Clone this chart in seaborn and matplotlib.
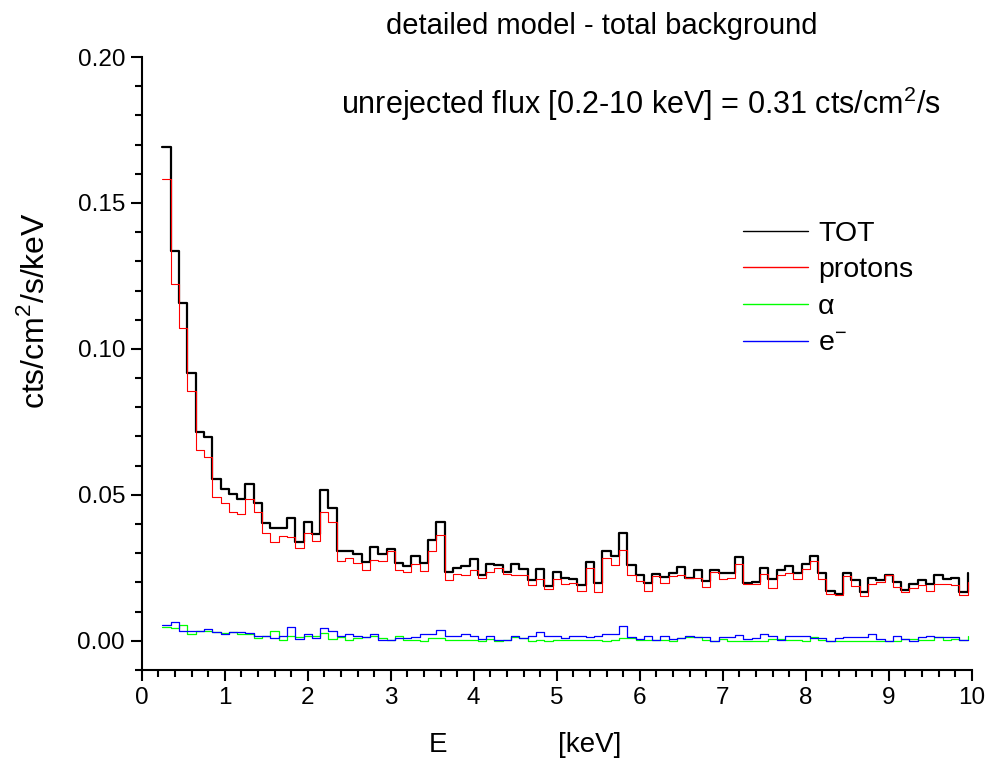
import numpy as np
import matplotlib
matplotlib.use("Agg")
import matplotlib.pyplot as plt
from matplotlib.ticker import MultipleLocator, FormatStrFormatter
import seaborn as sns

# lower edge of each 0.1 keV bin
energy = np.round(np.arange(0.25, 10.0, 0.1), 2)

tot = [0.1692, 0.1337, 0.1158, 0.0917, 0.0716, 0.0699, 0.0556, 0.0521, 0.0503, 0.0486,
       0.0537, 0.0471, 0.0405, 0.0386, 0.0385, 0.0420, 0.0337, 0.0407, 0.0366, 0.0515,
       0.0454, 0.0308, 0.0309, 0.0297, 0.0269, 0.0320, 0.0299, 0.0315, 0.0267, 0.0256,
       0.0292, 0.0267, 0.0347, 0.0406, 0.0235, 0.0251, 0.0257, 0.0281, 0.0224, 0.0263,
       0.0261, 0.0236, 0.0263, 0.0245, 0.0207, 0.0247, 0.0188, 0.0236, 0.0215, 0.0212,
       0.0191, 0.0269, 0.0197, 0.0306, 0.0289, 0.0371, 0.0258, 0.0224, 0.0198, 0.0229,
       0.0219, 0.0231, 0.0253, 0.0215, 0.0242, 0.0206, 0.0242, 0.0234, 0.0231, 0.0287,
       0.0199, 0.0202, 0.0250, 0.0212, 0.0242, 0.0256, 0.0233, 0.0262, 0.0292, 0.0232,
       0.0169, 0.0161, 0.0232, 0.0208, 0.0167, 0.0216, 0.0207, 0.0227, 0.0202, 0.0175,
       0.0194, 0.0208, 0.0195, 0.0224, 0.0212, 0.0215, 0.0166, 0.0234]

protons = [0.1583, 0.1222, 0.1071, 0.0857, 0.0654, 0.0631, 0.0493, 0.0473, 0.0441, 0.0433,
           0.0486, 0.0442, 0.0371, 0.0340, 0.0360, 0.0354, 0.0318, 0.0369, 0.0343, 0.0441,
           0.0408, 0.0275, 0.0284, 0.0266, 0.0242, 0.0276, 0.0274, 0.0307, 0.0242, 0.0236,
           0.0263, 0.0239, 0.0307, 0.0361, 0.0207, 0.0229, 0.0224, 0.0244, 0.0215, 0.0237,
           0.0250, 0.0229, 0.0227, 0.0226, 0.0190, 0.0213, 0.0179, 0.0211, 0.0194, 0.0197,
           0.0171, 0.0251, 0.0167, 0.0282, 0.0261, 0.0311, 0.0226, 0.0206, 0.0172, 0.0222,
           0.0198, 0.0223, 0.0227, 0.0215, 0.0215, 0.0183, 0.0236, 0.0212, 0.0216, 0.0264,
           0.0196, 0.0194, 0.0228, 0.0181, 0.0225, 0.0234, 0.0212, 0.0246, 0.0272, 0.0211,
           0.0161, 0.0158, 0.0223, 0.0189, 0.0153, 0.0193, 0.0201, 0.0224, 0.0184, 0.0167,
           0.0182, 0.0191, 0.0172, 0.0196, 0.0195, 0.0192, 0.0158, 0.0200]

alpha = [0.0049, 0.0045, 0.0053, 0.0022, 0.0032, 0.0032, 0.0030, 0.0026, 0.0029, 0.0022,
         0.0022, 0.0009, 0.0017, 0.0034, 0.0003, 0.0015, 0.0013, 0.0015, 0.0015, 0.0026,
         0.0007, 0.0014, 0.0003, 0.0009, 0.0012, 0.0017, 0.0008, 0.0004, 0.0015, 0.0003,
         0.0003, 0.0000, 0.0009, 0.0009, 0.0004, 0.0004, 0.0004, 0.0004, 0.0000, 0.0006,
         0.0000, 0.0003, 0.0012, 0.0009, 0.0000, 0.0003, 0.0000, 0.0003, 0.0003, 0.0003,
         0.0003, 0.0003, 0.0003, 0.0000, 0.0003, 0.0009, 0.0009, 0.0003, 0.0003, 0.0003,
         0.0003, 0.0000, 0.0009, 0.0012, 0.0012, 0.0003, 0.0000, 0.0007, 0.0000, 0.0000,
         0.0000, 0.0000, 0.0000, 0.0007, 0.0007, 0.0003, 0.0003, 0.0000, 0.0012, 0.0003,
         0.0000, 0.0000, 0.0001, 0.0000, 0.0000, 0.0000, 0.0000, 0.0000, 0.0000, 0.0007,
         0.0007, 0.0003, 0.0003, 0.0012, 0.0003, 0.0007, 0.0003, 0.0017]

electrons = [0.0054, 0.0066, 0.0032, 0.0032, 0.0032, 0.0039, 0.0030, 0.0023, 0.0029, 0.0029,
             0.0026, 0.0017, 0.0017, 0.0009, 0.0017, 0.0047, 0.0007, 0.0023, 0.0009, 0.0045,
             0.0034, 0.0017, 0.0022, 0.0015, 0.0012, 0.0023, 0.0003, 0.0003, 0.0011, 0.0011,
             0.0012, 0.0025, 0.0025, 0.0038, 0.0018, 0.0015, 0.0025, 0.0015, 0.0006, 0.0015,
             0.0003, 0.0003, 0.0018, 0.0009, 0.0017, 0.0029, 0.0015, 0.0015, 0.0009, 0.0015,
             0.0015, 0.0012, 0.0015, 0.0025, 0.0023, 0.0051, 0.0013, 0.0006, 0.0015, 0.0002,
             0.0015, 0.0007, 0.0009, 0.0018, 0.0013, 0.0013, 0.0000, 0.0012, 0.0012, 0.0019,
             0.0007, 0.0008, 0.0023, 0.0018, 0.0003, 0.0015, 0.0015, 0.0015, 0.0008, 0.0008,
             0.0000, 0.0008, 0.0012, 0.0012, 0.0012, 0.0023, 0.0006, 0.0001, 0.0015, 0.0006,
             0.0000, 0.0012, 0.0015, 0.0012, 0.0012, 0.0012, 0.0003, 0.0003]

sns.set_style("ticks")
plt.rcParams['font.family'] = ['Liberation Sans', 'DejaVu Sans']
plt.rcParams['mathtext.fontset'] = 'custom'
plt.rcParams['mathtext.rm'] = 'Liberation Sans'
plt.rcParams['text.color'] = 'black'
plt.rcParams['xtick.color'] = 'black'
plt.rcParams['ytick.color'] = 'black'
plt.rcParams['axes.labelcolor'] = 'black'

fig = plt.figure(figsize=(9.87, 7.58), dpi=100)
ax = fig.add_axes([0.1436, 0.1161, 0.8409, 0.8087])

series = [(tot, 'TOT', 'black', 1.6),
          (protons, 'protons', '#ff0000', 0.8),
          (alpha, 'α', '#00ff00', 0.9),
          (electrons, 'e$^{-}$', '#0000ff', 0.9)]
for vals, name, col, lw in series:
    sns.lineplot(x=energy, y=vals, drawstyle='steps-post', color=col, lw=lw,
                 label=name, errorbar=None, ax=ax)

ax.set_xlim(0, 10)
ax.set_ylim(-0.01, 0.20)
ax.xaxis.set_major_locator(MultipleLocator(1))
ax.xaxis.set_minor_locator(MultipleLocator(0.2))
ax.set_yticks([0.0, 0.05, 0.10, 0.15, 0.20])
ax.yaxis.set_minor_locator(MultipleLocator(0.01))
ax.yaxis.set_major_formatter(FormatStrFormatter('%.2f'))
ax.tick_params(which='major', length=8, width=1.5, labelsize=17.5,
               color='black', labelcolor='black', pad=4)
ax.tick_params(which='minor', length=5, width=1.5, color='black')
sns.despine(ax=ax)
for sp in ['left', 'bottom']:
    ax.spines[sp].set_linewidth(1.5)
    ax.spines[sp].set_color('black')
ax.set_xlabel('')
ax.set_ylabel('')

leg = ax.legend(loc='upper left', bbox_to_anchor=(717 / 987, 1 - 195 / 758),
                bbox_transform=fig.transFigure, frameon=False, fontsize=20.5,
                handlelength=2.3, handletextpad=0.35, labelspacing=0.38)
for line in leg.get_lines():
    line.set_linewidth(1.0)
for txt in leg.get_texts():
    txt.set_color('black')

fig.text(602 / 987, 1 - 26 / 758, 'detailed model - total background',
         ha='center', va='center', fontsize=21, color='black')
fig.text(641 / 987, 1 - 104 / 758, 'unrejected flux [0.2-10 keV] = 0.31 cts/cm$^2$/s',
         ha='center', va='center', fontsize=22, color='black')
fig.text(35 / 987, 1 - 311 / 758, 'cts/cm$^2$/s/keV', rotation=90,
         ha='center', va='center', fontsize=23, color='black')
fig.text(438 / 987, 1 - 745 / 758, 'E', ha='center', va='center', fontsize=20, color='black')
fig.text(590 / 987, 1 - 745 / 758, '[keV]', ha='center', va='center', fontsize=20, color='black')

fig.savefig('out.png', dpi=100)
